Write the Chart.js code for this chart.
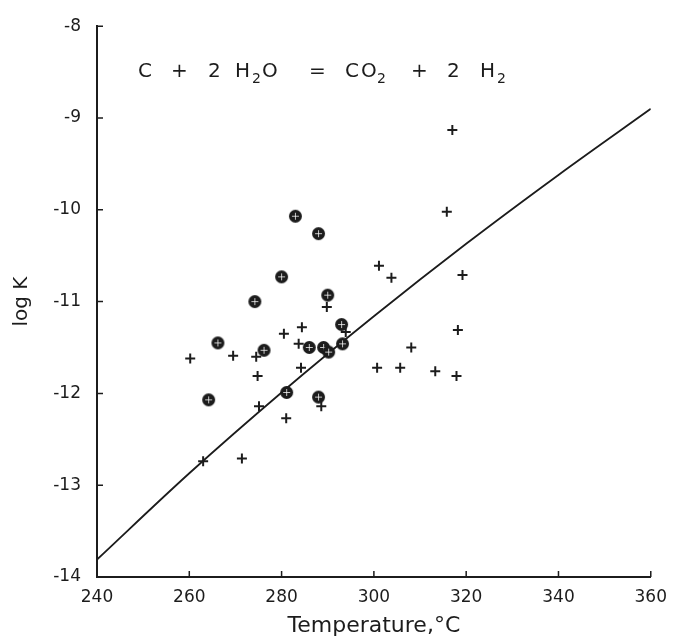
<!DOCTYPE html>
<html>
<head>
<meta charset="utf-8">
<script src="https://cdn.jsdelivr.net/npm/chart.js@4.4.1/dist/chart.umd.min.js"></script>
<style>
  html, body { margin: 0; padding: 0; background: #fff; }
</style>
</head>
<body>
<canvas id="chart" width="677" height="639"></canvas>
<script>
// ----------------- DATA -----------------
const tempTicks = [240, 260, 280, 300, 320, 340, 360];
const logKTicks = [-14, -13, -12, -11, -10, -9, -8];

// plain "+" points
const plusTemp = [317.0, 315.8, 301.1, 303.8, 319.2, 318.2, 308.1, 300.7, 305.7, 313.3, 317.9,
                  293.9, 284.4, 280.5, 283.7, 284.2, 274.5, 269.5, 260.2, 274.8, 275.1, 288.6,
                  281.0, 263.0, 271.4, 289.8];
const plusLogK = [-9.13, -10.02, -10.61, -10.74, -10.71, -11.31, -11.50, -11.72, -11.72, -11.76, -11.81,
                  -11.33, -11.28, -11.35, -11.46, -11.72, -11.60, -11.59, -11.62, -11.81, -12.14, -12.14,
                  -12.27, -12.74, -12.71, -11.06];

// circled points
const circTemp = [283.0, 288.0, 280.0, 274.2, 290.0, 293.0, 286.0, 289.1, 290.2, 293.2, 276.2, 266.2, 281.1, 264.2, 288.0];
const circLogK = [-10.07, -10.26, -10.73, -11.00, -10.93, -11.25, -11.50, -11.50, -11.55, -11.46, -11.53, -11.45, -11.99, -12.07, -12.04];

// equilibrium curve
const curveTemp = [240, 260, 280, 300, 320, 340, 360];
const curveLogK = [-13.81, -12.87, -11.99, -11.16, -10.37, -9.62, -8.90];

// ----------------- STYLE -----------------
const INK = "#1c1c1c";
const FONT = "'DejaVu Sans', 'Liberation Sans', sans-serif";

function toPoints(xs, ys) {
    return xs.map((x, i) => ({ x: x, y: ys[i] }));
}

// dark circle with a cross in it
function circledCross() {
    const c = document.createElement("canvas");
    c.width = 15; c.height = 15;
    const g = c.getContext("2d");
    g.fillStyle = INK;
    g.beginPath();
    g.arc(7.5, 7.5, 6.5, 0, Math.PI * 2);
    g.fill();
    g.strokeStyle = "rgba(255,255,255,0.75)";
    g.lineWidth = 1;
    g.beginPath();
    g.moveTo(7.5, 4); g.lineTo(7.5, 11);
    g.moveTo(4, 7.5); g.lineTo(11, 7.5);
    g.stroke();
    return c;
}

// ticks pointing into the plot
const inwardTicks = {
    id: "inwardTicks",
    afterDatasetsDraw(chart) {
        const ctx = chart.ctx;
        const xs = chart.scales.x, ys = chart.scales.y;
        ctx.save();
        ctx.strokeStyle = INK;
        ctx.lineWidth = 1.5;
        ctx.beginPath();
        tempTicks.forEach(v => {
            const px = xs.getPixelForValue(v);
            ctx.moveTo(px, xs.top); ctx.lineTo(px, xs.top - 6);
        });
        logKTicks.forEach(v => {
            const py = ys.getPixelForValue(v);
            ctx.moveTo(ys.right, py); ctx.lineTo(ys.right + 6, py);
        });
        ctx.stroke();
        ctx.restore();
    }
};

// reaction written at top of the plot
const equation = {
    id: "equation",
    afterDraw(chart) {
        const ctx = chart.ctx;
        const parts = [
            ["C", 138, 0], ["+", 171, 0], ["2", 208, 0], ["H", 235, 0], ["2", 252, 1], ["O", 262, 0],
            ["=", 309, 0], ["C", 345, 0], ["O", 361, 0], ["2", 377, 1], ["+", 411, 0],
            ["2", 447, 0], ["H", 480, 0], ["2", 497, 1]
        ];
        ctx.save();
        ctx.fillStyle = INK;
        ctx.textAlign = "left";
        ctx.textBaseline = "alphabetic";
        parts.forEach(p => {
            ctx.font = p[2] ? "14px " + FONT : "20px " + FONT;
            ctx.fillText(p[0], p[1], p[2] ? 83 : 77);
        });
        ctx.restore();
    }
};

// ----------------- CHART -----------------
const chart = new Chart(document.getElementById("chart").getContext("2d"), {
    type: "scatter",
    data: {
        datasets: [
            {
                label: "curve",
                data: toPoints(curveTemp, curveLogK),
                showLine: true,
                borderColor: INK,
                borderWidth: 1.8,
                pointRadius: 0,
                cubicInterpolationMode: "monotone",
                order: 3
            },
            {
                label: "plus",
                data: toPoints(plusTemp, plusLogK),
                pointStyle: "cross",
                pointRadius: 5,
                borderColor: INK,
                borderWidth: 2,
                order: 2
            },
            {
                label: "circled",
                data: toPoints(circTemp, circLogK),
                pointStyle: circledCross(),
                order: 1
            }
        ]
    },
    options: {
        responsive: false,
        animation: false,
        devicePixelRatio: 1,
        layout: { padding: { left: 0, top: 17, right: 19, bottom: 0 } },
        plugins: { legend: { display: false }, tooltip: { enabled: false } },
        scales: {
            x: {
                type: "linear",
                min: 240, max: 360,
                afterBuildTicks: s => { s.ticks = tempTicks.map(v => ({ value: v })); },
                afterFit: s => { s.height = 62; },
                grid: { display: false, drawTicks: false },
                border: { display: true, color: INK, width: 2 },
                ticks: { color: INK, padding: 10, font: { family: FONT, size: 17 } },
                title: {
                    display: true, text: "Temperature,°C", color: INK,
                    font: { family: FONT, size: 22 }, padding: { top: 0, bottom: 0 }
                }
            },
            y: {
                type: "linear",
                min: -14, max: -8,
                afterBuildTicks: s => { s.ticks = logKTicks.map(v => ({ value: v })); },
                afterFit: s => { s.width = 97; },
                grid: { display: false, drawTicks: false },
                border: { display: true, color: INK, width: 2 },
                ticks: { color: INK, padding: 16, font: { family: FONT, size: 17 } },
                title: {
                    display: true, text: "log K", color: INK,
                    font: { family: FONT, size: 20 }, padding: { top: 10, bottom: 0 }
                }
            }
        }
    },
    plugins: [inwardTicks, equation]
});
</script>
</body>
</html>
